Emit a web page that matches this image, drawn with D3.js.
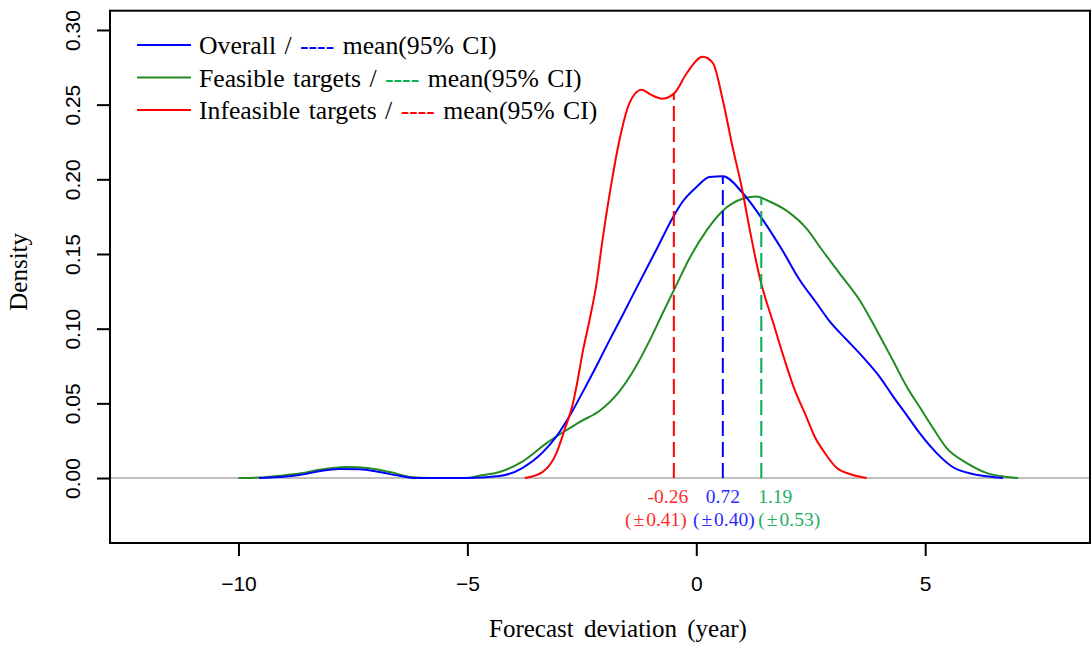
<!DOCTYPE html>
<html>
<head>
<meta charset="utf-8">
<script src="https://cdn.jsdelivr.net/npm/d3@7/dist/d3.min.js"></script>
<style>
  html, body { margin: 0; padding: 0; background: #fff; }
  svg { display: block; }
</style>
</head>
<body>
<svg id="chart" width="1092" height="646"></svg>
<script>
// ---- data ----
const overallX = [-9.55,-9.11,-8.67,-8.24,-7.80,-7.36,-6.92,-6.49,-6.11,-5.02,-4.30,-3.80,-3.36,-3.05,-2.73,-2.49,-2.18,-1.90,-1.61,-1.31,-0.87,-0.52,-0.30,0.01,0.29,0.58,1.01,1.45,1.87,2.26,2.63,2.91,3.29,3.64,4.01,4.29,4.60,4.88,5.25,5.60,6.04,6.48,6.70];
const overallY = [0,0.0007,0.002,0.0045,0.006,0.0058,0.004,0.0015,0,0,0.0013,0.0067,0.017,0.028,0.0435,0.057,0.075,0.092,0.109,0.127,0.153,0.174,0.185,0.195,0.2015,0.202,0.191,0.173,0.153,0.1326,0.117,0.105,0.0924,0.081,0.0676,0.055,0.042,0.030,0.0167,0.0074,0.0027,0.0007,0];

const feasibleX = [-10.0,-9.55,-9.11,-8.67,-8.24,-7.65,-7.14,-6.70,-6.20,-5.83,-5.02,-4.74,-4.30,-3.80,-3.27,-2.84,-2.55,-2.11,-1.68,-1.39,-1.02,-0.74,-0.47,-0.15,0.23,0.58,1.01,1.32,1.54,1.97,2.41,2.74,3.13,3.57,3.94,4.29,4.60,4.88,5.17,5.47,5.91,6.35,6.79,7.03];
const feasibleY = [0,0.0003,0.0015,0.003,0.0055,0.0074,0.0065,0.004,0.0005,0,0,0.0015,0.004,0.011,0.0234,0.032,0.0375,0.045,0.058,0.071,0.092,0.11,0.127,0.147,0.166,0.179,0.187,0.1885,0.186,0.179,0.167,0.153,0.137,0.119,0.099,0.079,0.061,0.0475,0.0335,0.020,0.010,0.0033,0.0007,0];

const infeasibleX = [-3.75,-3.36,-3.05,-2.88,-2.71,-2.60,-2.49,-2.33,-2.18,-2.05,-1.85,-1.68,-1.46,-1.20,-0.98,-0.74,-0.47,-0.21,0.14,0.36,0.58,0.79,0.99,1.17,1.38,1.71,1.93,2.15,2.37,2.59,2.81,3.07,3.35,3.72];
const infeasibleY = [0,0.004,0.017,0.032,0.048,0.064,0.083,0.106,0.13,0.159,0.198,0.226,0.251,0.26,0.2565,0.254,0.258,0.271,0.282,0.278,0.253,0.222,0.195,0.166,0.135,0.101,0.079,0.059,0.0435,0.0275,0.0167,0.0067,0.0027,0];

const seriesNames = ["Overall", "Feasible targets", "Infeasible targets"];
const meanPos = [0.58, 1.42, -0.49];          // where the dashed mean lines are drawn
const meanLabels = ["0.72", "1.19", "-0.26"];
const ciValues = ["0.40", "0.53", "0.41"];
const xTicks = [-10, -5, 0, 5];
const yTicks = [0.00, 0.05, 0.10, 0.15, 0.20, 0.25, 0.30];
const xTitle = "Forecast deviation (year)";
const yTitle = "Density";

// ---- styles / layout ----
const curveColors = ["#0000FF", "#228B22", "#FF0000"];
const dashColors = ["#0000FF", "#00B050", "#FF0000"];
const textColors = ["#2B2BFF", "#22B060", "#FF2B2B"];
const labelOffsets = [ [0, 1], [14, 28], [-6, -18] ]; // px shifts for mean label and CI label

const svg = d3.select("#chart");
const L = 110, R = 1090, T = 10.7, B = 543;
const x = d3.scaleLinear().domain([-12.806, 8.6]).range([L, R]);
const y = d3.scaleLinear().domain([-0.0435, 0.3129]).range([B, T]);

const serif = "'Liberation Serif', 'Times New Roman', serif";
const sans = "'Liberation Sans', Arial, sans-serif";

// zero reference line
svg.append("line")
  .attr("x1", L).attr("x2", R)
  .attr("y1", y(0)).attr("y2", y(0))
  .attr("stroke", "#BEBEBE").attr("stroke-width", 2);

const series = [
  d3.zip(overallX, overallY),
  d3.zip(feasibleX, feasibleY),
  d3.zip(infeasibleX, infeasibleY)
];

const line = d3.line().x(d => x(d[0])).y(d => y(d[1])).curve(d3.curveMonotoneX);

[1, 0, 2].forEach(i => {
  svg.append("path")
    .datum(series[i])
    .attr("d", line)
    .attr("fill", "none")
    .attr("stroke", curveColors[i])
    .attr("stroke-width", 2);
});

function valueAt(i, xv) {
  const xs = series[i].map(d => d[0]);
  const k = d3.bisectLeft(xs, xv);
  if (k <= 0) return series[i][0][1];
  if (k >= xs.length) return series[i][xs.length - 1][1];
  const [x0, y0] = series[i][k - 1], [x1, y1] = series[i][k];
  return y0 + (y1 - y0) * (xv - x0) / (x1 - x0);
}

// mean dashed lines and labels
meanPos.forEach((m, i) => {
  svg.append("line")
    .attr("x1", x(m)).attr("x2", x(m))
    .attr("y1", y(0)).attr("y2", y(valueAt(i, m)))
    .attr("stroke", dashColors[i]).attr("stroke-width", 2)
    .attr("stroke-dasharray", "15,6");
  svg.append("text")
    .attr("x", x(m) + labelOffsets[i][0]).attr("y", 503)
    .attr("text-anchor", "middle")
    .attr("font-family", serif).attr("font-size", 19.5)
    .attr("fill", textColors[i])
    .text(meanLabels[i]);
  const ct = svg.append("text")
    .attr("x", x(m) + labelOffsets[i][1]).attr("y", 526)
    .attr("text-anchor", "middle")
    .attr("font-family", serif).attr("font-size", 19.5)
    .attr("fill", textColors[i]);
  ct.append("tspan").text("(");
  ct.append("tspan").attr("dx", 2).text("\u00B1");
  ct.append("tspan").attr("dx", 2).text(ciValues[i] + ")");
});

// box
svg.append("rect")
  .attr("x", L).attr("y", T).attr("width", R - L).attr("height", B - T)
  .attr("fill", "none").attr("stroke", "#000").attr("stroke-width", 2);

// x axis
const xAxis = svg.append("g").attr("transform", `translate(0,${B})`)
  .call(d3.axisBottom(x).tickValues(xTicks).tickSize(13).tickPadding(20).tickFormat(d3.format("d")));
xAxis.select(".domain").remove();
xAxis.selectAll("line").attr("stroke", "#000").attr("stroke-width", 2);
xAxis.selectAll("text").attr("font-family", sans).attr("font-size", 21).attr("fill", "#000");

// y axis
const yAxis = svg.append("g").attr("transform", `translate(${L},0)`)
  .call(d3.axisLeft(y).tickValues(yTicks).tickSize(13).tickFormat(d3.format(".2f")));
yAxis.select(".domain").remove();
yAxis.selectAll("line").attr("stroke", "#000").attr("stroke-width", 2);
yAxis.selectAll("text")
  .attr("font-family", sans).attr("font-size", 21).attr("fill", "#000")
  .attr("text-anchor", "middle")
  .attr("x", null).attr("dy", null)
  .attr("transform", "translate(-30,0) rotate(-90)");

// axis titles
svg.append("text")
  .attr("x", (L + R) / 2 + 18).attr("y", 637)
  .attr("text-anchor", "middle")
  .attr("font-family", serif).attr("font-size", 25)
  .attr("word-spacing", 4)
  .text(xTitle);
svg.append("text")
  .attr("transform", `translate(27,${(T + B) / 2 - 5}) rotate(-90)`)
  .attr("text-anchor", "middle")
  .attr("font-family", serif).attr("font-size", 25)
  .text(yTitle);

// legend
const leg = svg.append("g");
seriesNames.forEach((name, i) => {
  const ly = 45 + i * 32.5;
  leg.append("line")
    .attr("x1", 137).attr("x2", 191).attr("y1", ly).attr("y2", ly)
    .attr("stroke", curveColors[i]).attr("stroke-width", 2);
  const t = leg.append("text")
    .attr("x", 199).attr("y", ly + 9)
    .attr("font-family", serif).attr("font-size", 25.7).attr("fill", "#000")
    .attr("word-spacing", 2);
  t.append("tspan").text(name + " / ");
  t.append("tspan").attr("fill", dashColors[i]).text("----");
  t.append("tspan").text(" mean(95% CI)");
});
</script>
</body>
</html>
